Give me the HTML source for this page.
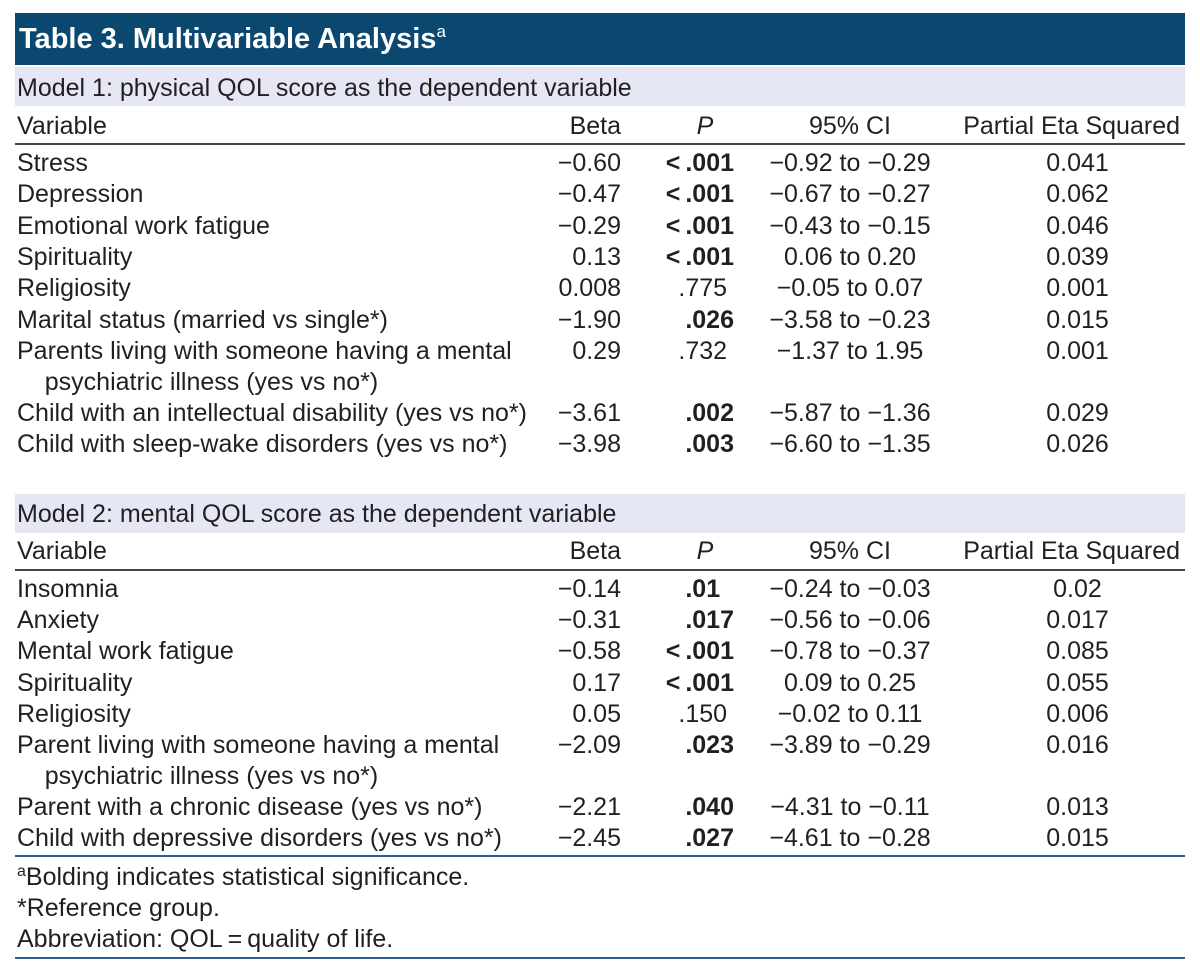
<!DOCTYPE html>
<html><head><meta charset="utf-8"><style>
body{margin:0;width:1200px;height:979px;background:#fff;position:relative;overflow:hidden;font-family:"Liberation Sans",sans-serif;color:#231f20;}
.t{position:absolute;font-size:25px;line-height:28px;white-space:nowrap;}
.r{text-align:right}
.c{text-align:center}
b{font-weight:bold}
sup{line-height:0;vertical-align:0;position:relative;top:-9px}
.bar{position:absolute;left:15px;width:1170px}
</style></head><body>
<div class="bar" style="top:13px;height:52px;background:#0b4870"></div>
<div class="t" style="left:19px;top:23px;font-size:29px;line-height:32px;color:#fff;font-weight:bold">Table 3. Multivariable Analysis<sup style="font-size:17px;font-weight:normal;top:-11px">a</sup></div>

<div class="bar" style="top:67px;height:39px;background:#e5e7f4"></div>
<div class="t" style="left:17px;top:74px">Model 1: physical QOL score as the dependent variable</div>
<div class="bar" style="top:143px;height:2px;background:#444"></div>

<div class="bar" style="top:494px;height:39px;background:#e5e7f4"></div>
<div class="t" style="left:17px;top:500px">Model 2: mental QOL score as the dependent variable</div>
<div class="bar" style="top:569px;height:2px;background:#444"></div>

<div class="bar" style="top:855px;height:2px;background:#2a5f8f"></div>
<div class="bar" style="top:957px;height:2px;background:#2a5f8f"></div>

<div class="t" style="left:17px;top:863px"><sup style="font-size:16px">a</sup>Bolding indicates statistical significance.</div>
<div class="t" style="left:17px;top:894px">*Reference group.</div>
<div class="t" style="left:17px;top:925px">Abbreviation: QOL&#8201;=&#8201;quality of life.</div>

<div id="rows"></div>
<script>
function row(y,a,b,p,ci,e,bold){
 var h='';
 h+='<div class="t" style="left:17px;top:'+(y-14)+'px">'+a+'</div>';
 h+='<div class="t r" style="left:520px;width:101px;top:'+(y-14)+'px">'+b+'</div>';
 var pw=bold?'<b>'+p+'</b>':p;
 h+='<div class="t r" style="left:640px;width:94px;top:'+(y-14)+'px">'+pw+'</div>';
 h+='<div class="t c" style="left:740px;width:220px;top:'+(y-14)+'px">'+ci+'</div>';
 h+='<div class="t c" style="left:970px;width:215px;top:'+(y-14)+'px">'+e+'</div>';
 return h;
}
function hdr(y){
 return '<div class="t" style="left:17px;top:'+(y-14)+'px">Variable</div>'+
 '<div class="t r" style="left:520px;width:101px;top:'+(y-14)+'px">Beta</div>'+
 '<div class="t c" style="left:660px;width:90px;top:'+(y-14)+'px"><i>P</i></div>'+
 '<div class="t c" style="left:740px;width:220px;top:'+(y-14)+'px">95% CI</div>'+
 '<div class="t r" style="left:940px;width:240px;top:'+(y-14)+'px">Partial Eta Squared</div>';
}
var m='−',h='';
h+=hdr(126);
var r1=[
['Stress',m+'0.60','&lt;&#8201;.001',m+'0.92 to '+m+'0.29','0.041',1],
['Depression',m+'0.47','&lt;&#8201;.001',m+'0.67 to '+m+'0.27','0.062',1],
['Emotional work fatigue',m+'0.29','&lt;&#8201;.001',m+'0.43 to '+m+'0.15','0.046',1],
['Spirituality','0.13','&lt;&#8201;.001','0.06 to 0.20','0.039',1],
['Religiosity','0.008','.775&nbsp;',m+'0.05 to 0.07','0.001',0],
['Marital status (married vs single*)',m+'1.90','.026',m+'3.58 to '+m+'0.23','0.015',1],
['Parents living with someone having a mental',  '0.29','.732&nbsp;',m+'1.37 to 1.95','0.001',0],
['&nbsp;&nbsp;&nbsp;&nbsp;psychiatric illness (yes vs no*)','','','','',0],
['Child with an intellectual disability (yes vs no*)',m+'3.61','.002',m+'5.87 to '+m+'1.36','0.029',1],
['Child with sleep-wake disorders (yes vs no*)',m+'3.98','.003',m+'6.60 to '+m+'1.35','0.026',1]];
var ys1=[163,194,226,257,288,320,351,382,413,444];
r1.forEach(function(r,i){h+=row(ys1[i],r[0],r[1],r[2],r[3],r[4],r[5]);});
h+=hdr(551);
var r2=[
['Insomnia',m+'0.14','.01&nbsp;&nbsp;',m+'0.24 to '+m+'0.03','0.02',1],
['Anxiety',m+'0.31','.017',m+'0.56 to '+m+'0.06','0.017',1],
['Mental work fatigue',m+'0.58','&lt;&#8201;.001',m+'0.78 to '+m+'0.37','0.085',1],
['Spirituality','0.17','&lt;&#8201;.001','0.09 to 0.25','0.055',1],
['Religiosity','0.05','.150&nbsp;',m+'0.02 to 0.11','0.006',0],
['Parent living with someone having a mental',m+'2.09','.023',m+'3.89 to '+m+'0.29','0.016',1],
['&nbsp;&nbsp;&nbsp;&nbsp;psychiatric illness (yes vs no*)','','','','',0],
['Parent with a chronic disease (yes vs no*)',m+'2.21','.040',m+'4.31 to '+m+'0.11','0.013',1],
['Child with depressive disorders (yes vs no*)',m+'2.45','.027',m+'4.61 to '+m+'0.28','0.015',1]];
var ys2=[589,620,651,683,714,745,776,807,838];
r2.forEach(function(r,i){h+=row(ys2[i],r[0],r[1],r[2],r[3],r[4],r[5]);});
document.getElementById('rows').innerHTML=h;
</script>
</body></html>
